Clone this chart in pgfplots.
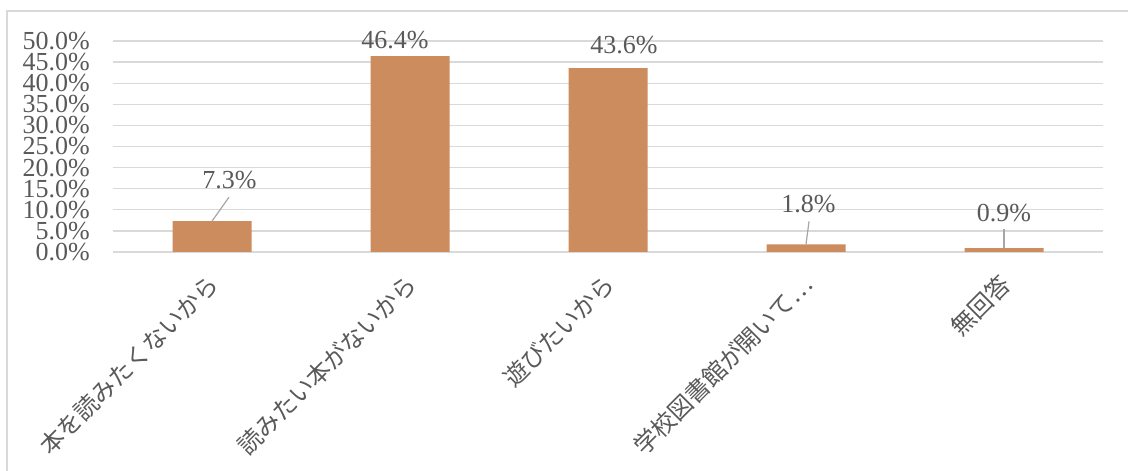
\documentclass[border=0pt]{standalone}
\usepackage{fontspec}
\setmainfont{Liberation Serif}
\newfontfamily\jp{Noto Sans CJK JP}
\usepackage{pgfplots}
\usepackage{pgfplotstable}
\pgfplotsset{compat=1.18}
\definecolor{barc}{HTML}{CD8C5E}
\definecolor{gridc}{HTML}{D9D9D9}
\definecolor{txt}{HTML}{595959}
\definecolor{lead}{HTML}{A6A6A6}

% x, value, label shift (pt)
\pgfplotstableread{
x y dx dy
0 7.3 17.5 33
1 46.4 -15 8
2 43.6 16 15
3 1.8 2.5 32
4 0.9 0 27
}\data

\begin{document}
\begin{tikzpicture}[x=1pt,y=1pt]
\useasboundingbox (0,0) rectangle (1128,471);
\draw[gridc, line width=1.5pt] (7,0) -- (7,460) -- (1128,460);
\begin{axis}[
    at={(113pt,219pt)}, anchor=south west,
    scale only axis, width=990pt, height=211pt,
    xmin=-0.5, xmax=4.5, ymin=0, ymax=50,
    ybar, bar width=79pt,
    axis line style={draw=none},
    major tick length=0pt,
    ymajorgrids, grid style={gridc, line width=1.3pt},
    ytick={0,5,...,50},
    /pgf/number format/.cd, fixed, fixed zerofill, precision=1, assume math mode=true,
    /pgfplots/.cd,
    yticklabel={\pgfmathprintnumber{\tick}\%},
    yticklabel style={font=\fontsize{26}{28}\selectfont, text=txt, anchor=east, inner sep=0pt, xshift=-23pt},
    xtick={0,...,4},
    xticklabels={本を読みたくないから, 読みたい本がないから, 遊びたいから, 学校図書館が開いて…, 無回答},
    xticklabel style={font=\jp\fontsize{24}{26}\selectfont, text=txt, yshift=-20pt, xshift=-6pt, anchor=north east, rotate=45, inner sep=0pt},
    visualization depends on={\thisrow{dx}\as\dx},
    visualization depends on={\thisrow{dy}\as\dy},
    nodes near coords={\pgfmathprintnumber{\pgfplotspointmeta}\%},
    nodes near coords style={font=\fontsize{26}{28}\selectfont, text=txt, anchor=base, inner sep=0pt, xshift=\dx pt, yshift=\dy pt},
]
\addplot[fill=barc, draw=none] table[x=x, y=y] {\data};
\draw[lead, line width=1.2pt] (axis cs:0,7.3) -- ++(17pt,24pt);
\draw[lead, line width=1.2pt] (axis cs:3,1.8) -- ++(3pt,23pt);
\draw[lead, line width=2pt] (axis cs:4,0.9) -- ++(0pt,19pt);
\end{axis}
\end{tikzpicture}
\end{document}
